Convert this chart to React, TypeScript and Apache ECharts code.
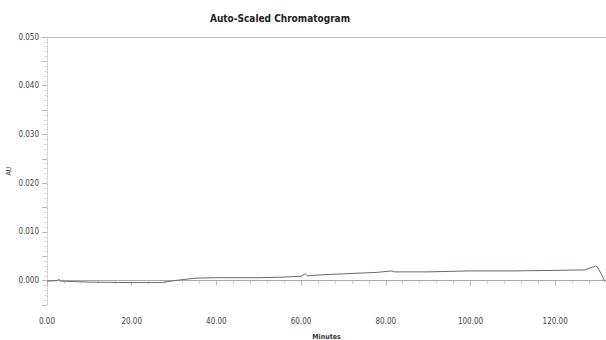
import React, { useEffect, useRef } from "react";
import * as echarts from "echarts";

const minutes = [0, 2.5, 2.8, 3.1, 10, 20, 27, 30, 35, 40, 50, 55, 60, 61, 61.5, 65, 70, 78, 81.5, 82, 90, 100, 110, 120, 127, 129.5, 130, 131.8];
const absorbance = [-0.0001, 0.0, 0.0003, -0.0001, -0.0003, -0.0004, -0.0004, 0.0, 0.0005, 0.0006, 0.0006, 0.0007, 0.0009, 0.0014, 0.001, 0.0012, 0.0014, 0.0017, 0.002, 0.0018, 0.0018, 0.002, 0.002, 0.0021, 0.0022, 0.003, 0.0028, -0.0002];

export default function App() {
  const ref = useRef<HTMLDivElement>(null);
  useEffect(() => {
    const chart = echarts.init(ref.current!, null, { renderer: "svg" });
    const font = "'Liberation Sans Narrow', 'DejaVu Sans Condensed', 'Liberation Sans', Arial, sans-serif";
    chart.setOption({
      animation: false,
      backgroundColor: "#ffffff",
      title: {
        text: "Auto-Scaled Chromatogram",
        left: 275,
        top: 8,
        textAlign: "center",
        textStyle: { fontSize: 10, fontWeight: "bold", color: "#222", fontFamily: font },
      },
      grid: { left: 47, right: 0, top: 37, bottom: 35, outerBoundsMode: "none", containLabel: false },
      xAxis: [
        {
          type: "value",
          min: 0,
          max: 132,
          interval: 20,
          name: "Minutes",
          nameLocation: "middle",
          nameGap: 28,
          nameMoveOverlap: false,
          nameTextStyle: { fontSize: 7, color: "#333", fontFamily: font, fontWeight: "bold" },
          axisLine: { lineStyle: { color: "#aaa" } },
          axisTick: { show: true, lineStyle: { color: "#bbb" } },
          minorTick: { show: true, splitNumber: 5, lineStyle: { color: "#ccc" } },
          axisLabel: {
            fontSize: 8,
            color: "#444",
            fontFamily: font,
            margin: 12,
            formatter: (v: number) => v.toFixed(2),
            showMaxLabel: false,
          },
          splitLine: { show: false },
        },
        {
          type: "value",
          position: "top",
          min: 0,
          max: 132,
          axisLine: { show: true, lineStyle: { color: "#bbb" } },
          axisTick: { show: false },
          axisLabel: { show: false },
          splitLine: { show: false },
        },
      ],
      yAxis: {
        type: "value",
        min: -0.005,
        max: 0.05,
        interval: 0.005,
        name: "AU",
        nameLocation: "middle",
        nameGap: 35,
        nameMoveOverlap: false,
        nameTextStyle: { fontSize: 7, color: "#333", fontFamily: font },
        axisLine: { show: true, lineStyle: { color: "#ccc", type: "dotted" } },
        axisTick: { show: true, lineStyle: { color: "#bbb" } },
        minorTick: { show: true, splitNumber: 5, lineStyle: { color: "#ddd" } },
        axisLabel: {
          fontSize: 8,
          color: "#444",
          fontFamily: font,
          formatter: (v: number) => {
            const k = Math.round(v * 1000);
            if (k < 0 || k % 10 !== 0) return "";
            return (k / 1000).toFixed(3);
          },
        },
        splitLine: { show: false },
      },
      series: [
        {
          type: "line",
          xAxisIndex: 0,
          data: minutes.map((m, i) => [m, absorbance[i]]),
          showSymbol: false,
          lineStyle: { color: "#5f6e64", width: 1 },
        },
      ],
    });
    return () => chart.dispose();
  }, []);
  return <div ref={ref} style={{ width: 606, height: 340, position: "fixed", left: 0, top: 0 }} />;
}
